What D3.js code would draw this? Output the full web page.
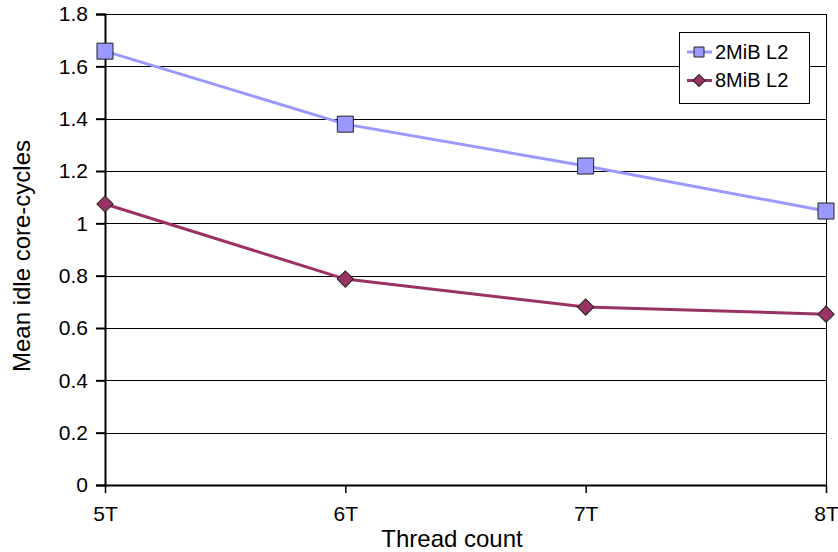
<!DOCTYPE html>
<html>
<head>
<meta charset="utf-8">
<script src="https://d3js.org/d3.v7.min.js"></script>
<style>
  body { margin: 0; background: #fff; }
  text { font-family: "Liberation Sans", Arial, sans-serif; fill: #000; }
</style>
</head>
<body>
<svg width="838" height="552"></svg>
<script>
var threads = ["5T", "6T", "7T", "8T"];
var l2_2mib = [1.658, 1.379, 1.219, 1.047];
var l2_8mib = [1.074, 0.787, 0.680, 0.653];
var yTicks = [0, 0.2, 0.4, 0.6, 0.8, 1, 1.2, 1.4, 1.6, 1.8];

var svg = d3.select("svg");
var plotL = 105, plotR = 826, plotT = 14, plotB = 485;

var x = d3.scalePoint().domain(threads).range([plotL, plotR]);
var y = d3.scaleLinear().domain([0, 1.8]).range([plotB, plotT]);

// gridlines
svg.append("g").selectAll("line").data(yTicks.slice(1)).enter().append("line")
  .attr("x1", plotL).attr("x2", plotR)
  .attr("y1", function(d) { return Math.round(y(d)) + 0.5; })
  .attr("y2", function(d) { return Math.round(y(d)) + 0.5; })
  .attr("stroke", "#000").attr("stroke-width", 1);

// right border
svg.append("line").attr("x1", plotR + 0.5).attr("x2", plotR + 0.5).attr("y1", plotT).attr("y2", plotB)
  .attr("stroke", "#000").attr("stroke-width", 1);

// y axis
var yAxis = svg.append("g").attr("transform", "translate(" + plotL + ",0)")
  .call(d3.axisLeft(y).tickValues(yTicks).tickSize(9).tickPadding(8)
    .tickFormat(function(d) { return String(+d.toFixed(1)); }));
yAxis.select(".domain").attr("stroke-width", 2);
yAxis.selectAll(".tick line").attr("stroke-width", 2);
yAxis.attr("font-size", 21).attr("font-family", null);

// x axis
var xAxis = svg.append("g").attr("transform", "translate(0," + plotB + ")")
  .call(d3.axisBottom(x).tickSize(8).tickPadding(6).tickSizeOuter(0));
xAxis.select(".domain").attr("stroke-width", 2);
xAxis.selectAll(".tick line").attr("stroke-width", 1.5);
xAxis.attr("font-size", 21).attr("font-family", null);
xAxis.selectAll(".tick text").attr("dy", null).attr("y", 36);

// axis titles
svg.append("text").attr("x", 452).attr("y", 547).attr("text-anchor", "middle")
  .style("font-size", "24px").text("Thread count");
svg.append("text").attr("transform", "translate(30,256) rotate(-90)").attr("text-anchor", "middle")
  .style("font-size", "24px").text("Mean idle core-cycles");

var series = [
  { name: "2MiB L2", values: l2_2mib, color: "#9999ff", rot: 0, side: 16, lside: 10 },
  { name: "8MiB L2", values: l2_8mib, color: "#993366", rot: 45, side: 11.5, lside: 8.5 }
];

var line = d3.line()
  .x(function(d, i) { return x(threads[i]); })
  .y(function(d) { return y(d); });

series.forEach(function(s) {
  svg.append("path").datum(s.values)
    .attr("fill", "none").attr("stroke", s.color).attr("stroke-width", 3)
    .attr("d", line);
  svg.append("g").selectAll("path").data(s.values).enter().append("path")
    .attr("transform", function(d, i) { return "translate(" + x(threads[i]) + "," + y(d) + ") rotate(" + s.rot + ")"; })
    .attr("d", d3.symbol().type(d3.symbolSquare).size(s.side * s.side))
    .attr("fill", s.color).attr("stroke", "#222").attr("stroke-width", 1);
});

// legend
var lg = svg.append("g");
lg.append("rect").attr("x", 679.5).attr("y", 32.5).attr("width", 130).attr("height", 71)
  .attr("fill", "#fff").attr("stroke", "#000").attr("stroke-width", 1);
series.forEach(function(s, i) {
  var cy = 52 + i * 28.5;
  lg.append("line").attr("x1", 687).attr("x2", 712).attr("y1", cy).attr("y2", cy)
    .attr("stroke", s.color).attr("stroke-width", 3);
  lg.append("path").attr("transform", "translate(699," + cy + ") rotate(" + s.rot + ")")
    .attr("d", d3.symbol().type(d3.symbolSquare).size(s.lside * s.lside))
    .attr("fill", s.color).attr("stroke", "#222").attr("stroke-width", 1);
  lg.append("text").attr("x", 715).attr("y", cy + 6.5).style("font-size", "20px").text(s.name);
});
</script>
</body>
</html>
